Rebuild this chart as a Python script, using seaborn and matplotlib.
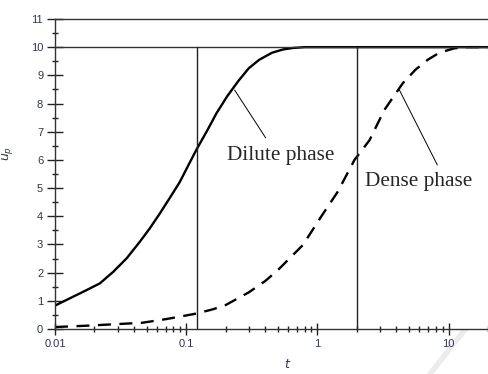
import numpy as np
import pandas as pd
import matplotlib
matplotlib.use("Agg")
import matplotlib.pyplot as plt
import seaborn as sns
from matplotlib.ticker import LogLocator, FixedLocator, MultipleLocator, FuncFormatter

# Particle velocity against time for the two phases
t_dilute = [0.01, 0.0138, 0.0174, 0.022, 0.0278, 0.0352, 0.0444, 0.0528, 0.063,
            0.075, 0.089, 0.105, 0.12, 0.145, 0.17, 0.205, 0.25, 0.3, 0.36,
            0.45, 0.55, 0.65, 0.8, 1.0, 2.0, 5.0, 10.0, 20.0]
u_dilute = [0.83, 1.15, 1.38, 1.62, 2.03, 2.51, 3.1, 3.57, 4.1,
            4.65, 5.2, 5.85, 6.37, 7.05, 7.65, 8.25, 8.8, 9.25, 9.55,
            9.8, 9.92, 9.97, 10.0, 10.0, 10.0, 10.0, 10.0, 10.0]

t_dense = [0.01, 0.018, 0.0286, 0.046, 0.07, 0.1, 0.12, 0.16, 0.2, 0.3,
           0.4, 0.5, 0.776, 1.07, 1.43, 1.92, 2.5, 3.24, 4.48, 5.6, 6.93,
           8.5, 11.1, 14.0, 20.0]
u_dense = [0.07, 0.12, 0.17, 0.22, 0.35, 0.48, 0.55, 0.7, 0.85, 1.3,
           1.7, 2.09, 2.98, 3.99, 4.87, 6.0, 6.7, 7.77, 8.72, 9.2, 9.55,
           9.8, 9.96, 10.0, 10.0]

# Characteristic times marked with vertical guides
t_marks = [0.12, 2.0]
u_max = 10.0

x_ticks = [0.01, 0.1, 1, 10]
x_ticklabels = ["0.01", "0.1", "1", "10"]
y_ticks = list(range(0, 12))

dilute = pd.DataFrame({"t": t_dilute, "u": u_dilute})
dense = pd.DataFrame({"t": t_dense, "u": u_dense})

sns.set_style("white")
plt.rcParams["font.family"] = ["Liberation Sans", "DejaVu Sans"]

fig = plt.figure(figsize=(4.88, 3.74), dpi=100)
ax = fig.add_axes([0.1127, 0.1203, 0.8873, 0.8290])

sns.lineplot(data=dilute, x="t", y="u", ax=ax, color="black", lw=1.7)
sns.lineplot(data=dense, x="t", y="u", ax=ax, color="black", lw=1.7,
             linestyle=(0, (5.5, 3.6)))

ax.set_xscale("log")
ax.set_xlim(0.01, 20)
ax.set_ylim(0, 11)

# Upper asymptote and vertical markers
ax.plot([0.01, 20], [u_max, u_max], color="#333333", lw=1.0)
for tm in t_marks:
    ax.plot([tm, tm], [0, u_max], color="#222222", lw=1.0)

# Annotations with leader lines
ax.plot([0.234, 0.404], [8.48, 6.78], color="black", lw=0.7)
ax.plot([4.22, 8.22], [8.48, 5.82], color="black", lw=0.7)
ax.text(0.203, 6.17, "Dilute phase", fontsize=15.3, va="center", ha="left",
        family=["Liberation Serif", "DejaVu Serif"])
ax.text(2.29, 5.22, "Dense phase", fontsize=15.3, va="center", ha="left",
        family=["Liberation Serif", "DejaVu Serif"])

# Axes styling
for side in ["left", "bottom", "top"]:
    ax.spines[side].set_visible(True)
    ax.spines[side].set_color("#333333")
    ax.spines[side].set_linewidth(1.0)
ax.spines["right"].set_visible(False)

ax.xaxis.set_major_locator(FixedLocator(x_ticks))
ax.xaxis.set_major_formatter(FuncFormatter(lambda v, p: x_ticklabels[x_ticks.index(v)] if v in x_ticks else ""))
ax.xaxis.set_minor_locator(LogLocator(base=10, subs=np.arange(2, 10)))
ax.yaxis.set_major_locator(FixedLocator(y_ticks))
ax.yaxis.set_minor_locator(MultipleLocator(0.5))

ax.tick_params(axis="both", which="both", direction="inout", color="#222222",
               labelcolor="#2f3550", labelsize=8, width=1.0)
ax.tick_params(axis="x", which="major", length=9, pad=3, bottom=True, top=False)
ax.tick_params(axis="x", which="minor", length=5, bottom=True, top=False)
ax.tick_params(axis="y", which="major", length=11, pad=3, left=True, right=False)
ax.tick_params(axis="y", which="minor", length=5, left=True, right=False)

ax.set_xlabel("$t$", fontsize=9, color="#2f3550")
ax.xaxis.set_label_coords((288 - 55) / 433, -0.095)
ax.set_ylabel("$u_p$", fontsize=9, color="#2f3550")
ax.yaxis.set_label_coords(-0.092, 0.565)

# Faint diagonal stripe in the lower right corner
fig.add_artist(plt.Line2D([488 / 488, 430 / 488], [1 - 300 / 374, 0],
                          color="#ececec", lw=4, transform=fig.transFigure, zorder=-1))

fig.savefig("out.png", dpi=100)
